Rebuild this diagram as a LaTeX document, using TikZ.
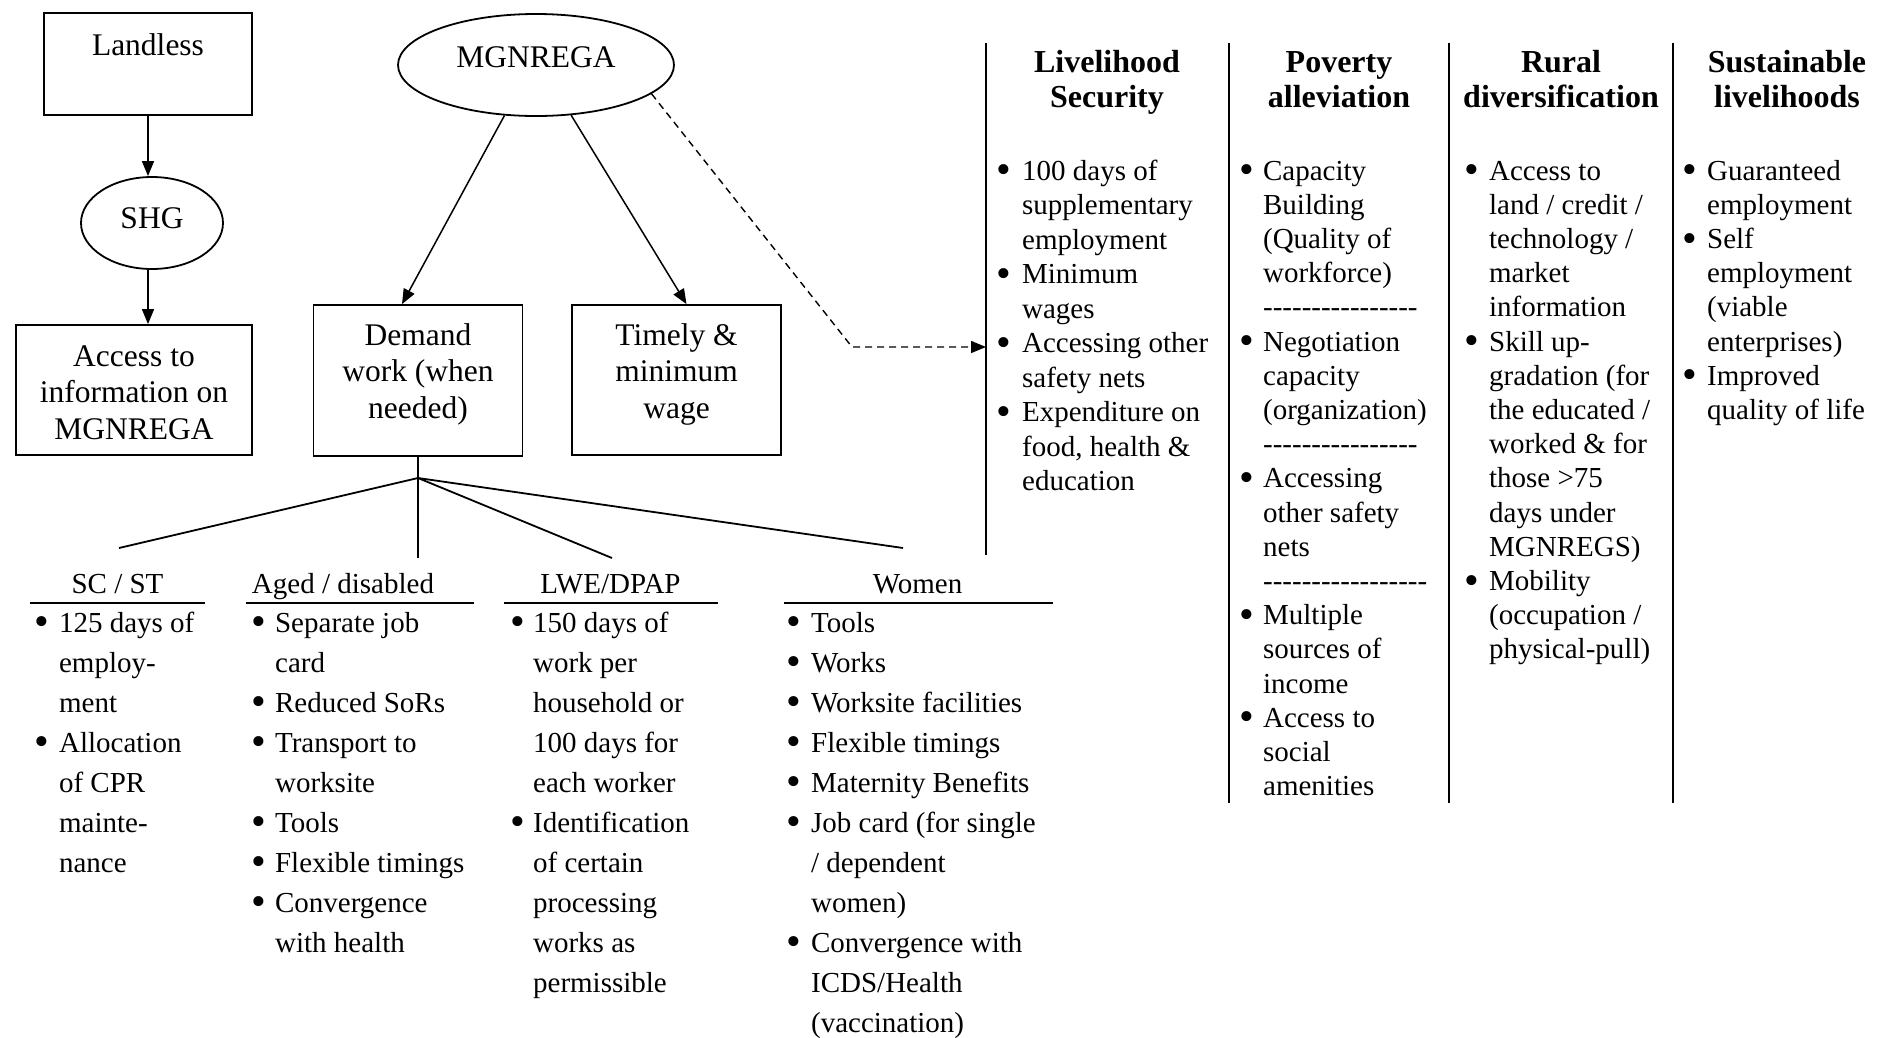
\documentclass[tikz,border=0pt]{standalone}
\usepackage{fontspec}
\setmainfont{Liberation Serif}
\usetikzlibrary{arrows.meta,shapes.geometric,calc}
\newcommand\dsh{\mbox{-}}
\newcommand\dashrow[1]{\foreach \k in {1,...,#1}{\dsh}}
\newcommand\bul{\raisebox{-0.13em}{\scalebox{1.45}{\textbullet}}}
\newcommand\boxfont{\fontsize{31.5}{36.5}\selectfont}
\newcommand\listA{\fontsize{29}{34.2}\selectfont}
\newcommand\listAA{\fontsize{29}{34.5}\selectfont}
\newcommand\listB{\fontsize{29}{40}\selectfont}
\newcommand\headfont{\fontsize{32}{35}\selectfont\bfseries}
\newcommand\blist[2]{\begin{tabular}[t]{@{}l@{\hspace{#1pt}}l@{}}#2\end{tabular}}
\newcommand\clines[1]{\begin{tabular}[t]{@{}c@{}}#1\end{tabular}}
\begin{document}
\begin{tikzpicture}[x=1pt,y=-1pt,
  box/.style={draw, line width=1.8pt, inner sep=0pt},
  oval/.style={draw, ellipse, line width=1.8pt, inner sep=0pt},
  arr/.style={line width=1.5pt, -{Triangle[length=15pt,width=12pt]}},
  dasharr/.style={line width=1.4pt, dash pattern=on 7pt off 5pt, -{Triangle[length=15pt,width=12pt]}},
  fan/.style={line width=1.8pt},
  colrule/.style={line width=2.4pt},
  uline/.style={line width=1.5pt},
  txt/.style={inner sep=0pt, anchor=base},
  lst/.style={inner sep=0pt, anchor=base west}]
\useasboundingbox (0,0) rectangle (1883,1037);

% ---------- top left ----------
\node[box, minimum width=208pt, minimum height=102pt] (land) at (148,64) {};
\node[txt, font=\boxfont] (landT) at (148,55) {Landless};
\node[oval, minimum width=142pt, minimum height=92pt] (shg) at (152,223) {};
\node[txt, font=\boxfont] (shgT) at (152,228) {SHG};
\node[box, minimum width=236pt, minimum height=130pt] (acc) at (134,390) {};
\node[txt, font=\boxfont] (accT) at (134,366) {\clines{Access to\\information on\\MGNREGA}};

\draw[arr] (land.south) -- (land.south |- shg.north);
\draw[arr] (land.south |- shg.south) -- (land.south |- acc.north);

% ---------- MGNREGA ----------
\node[oval, minimum width=276pt, minimum height=102pt] (mg) at (536,65) {};
\node[txt, font=\boxfont] (mgT) at (536,67) {MGNREGA};
\node[box, minimum width=209pt, minimum height=151pt] (dem) at (418,380.5) {};
\node[txt, font=\boxfont] (demT) at (418,345) {\clines{Demand\\work (when\\needed)}};
\node[box, minimum width=209pt, minimum height=150pt] (tim) at (676.5,380) {};
\node[txt, font=\boxfont] (timT) at (676.5,345) {\clines{Timely \&\\minimum\\wage}};

\draw[arr] (mg.238) -- ([xshift=-16pt]dem.north);
\draw[arr] (mg.-55) -- ([xshift=10pt]tim.north);

% ---------- column rules ----------
\coordinate (v1t) at (986,43);  \coordinate (v1b) at (986,555);
\coordinate (v2t) at (1229,43); \coordinate (v2b) at (1229,803);
\coordinate (v3t) at (1449,43); \coordinate (v3b) at (1449,803);
\coordinate (v4t) at (1673,43); \coordinate (v4b) at (1673,803);
\draw[colrule] (v1t) -- (v1b);
\draw[colrule] (v2t) -- (v2b);
\draw[colrule] (v3t) -- (v3b);
\draw[colrule] (v4t) -- (v4b);

\coordinate (bend) at (852,347);
\draw[dasharr] (mg.-14) -- (bend) -- (bend -| v1t);

% ---------- column headings ----------
\node[txt, font=\headfont] (h1) at (1107,72) {\clines{Livelihood\\Security}};
\node[txt, font=\headfont] (h2) at (1339,72) {\clines{Poverty\\alleviation}};
\node[txt, font=\headfont] (h3) at (1561,72) {\clines{Rural\\diversification}};
\node[txt, font=\headfont] (h4) at (1787,72) {\clines{Sustainable\\livelihoods}};

% ---------- column lists ----------
\node[lst, font=\listAA] (c1) at (996.6,180) {\blist{10.6}{%
\bul & 100 days of\\
 & supplementary\\
 & employment\\
\bul & Minimum\\
 & wages\\
\bul & Accessing other\\
 & safety nets\\
\bul & Expenditure on\\
 & food, health \&\\
 & education}};

\node[lst, font=\listA] (c2) at (1239.6,180) {\blist{8.6}{%
\bul & Capacity\\
 & Building\\
 & (Quality of\\
 & workforce)\\
 & \dashrow{16}\\
\bul & Negotiation\\
 & capacity\\
 & (organization)\\
 & \dashrow{16}\\
\bul & Accessing\\
 & other safety\\
 & nets\\
 & \dashrow{17}\\
\bul & Multiple\\
 & sources of\\
 & income\\
\bul & Access to\\
 & social\\
 & amenities}};

\node[lst, font=\listA] (c3) at (1464.6,180) {\blist{9.6}{%
\bul & Access to\\
 & land / credit /\\
 & technology /\\
 & market\\
 & information\\
\bul & Skill up-\\
 & gradation (for\\
 & the educated /\\
 & worked \& for\\
 & those >75\\
 & days under\\
 & MGNREGS)\\
\bul & Mobility\\
 & (occupation /\\
 & physical-pull)}};

\node[lst, font=\listA] (c4) at (1682.6,180) {\blist{9.6}{%
\bul & Guaranteed\\
 & employment\\
\bul & Self\\
 & employment\\
 & (viable\\
 & enterprises)\\
\bul & Improved\\
 & quality of life}};

% ---------- fan to target groups ----------
\coordinate (jn) at (418,478);
\coordinate (scE) at (119,548);
\coordinate (agE) at (418,558);
\coordinate (lwE) at (612,558);
\coordinate (wmE) at (903,548);
\draw[fan] (dem.south) -- (jn);
\draw[fan] (jn) -- (scE);
\draw[fan] (jn) -- (agE);
\draw[fan] (jn) -- (lwE);
\draw[fan] (jn) -- (wmE);

\node[txt, font=\listB] (scH) at (117.5,593) {SC / ST};
\node[txt, font=\listB] (agH) at (343,593) {Aged / disabled};
\node[txt, font=\listB] (lwH) at (610.5,593) {LWE/DPAP};
\node[txt, font=\listB] (wmH) at (917.5,593) {Women};
\draw[uline] (30,603) -- (205,603);
\draw[uline] (246,603) -- (474,603);
\draw[uline] (504,603) -- (718,603);
\draw[uline] (784,603) -- (1053,603);

\node[lst, font=\listB] (l1) at (34.6,632) {\blist{9.6}{%
\bul & 125 days of\\
 & employ-\\
 & ment\\
\bul & Allocation\\
 & of CPR\\
 & mainte-\\
 & nance}};

\node[lst, font=\listB] (l2) at (251.6,632) {\blist{8.6}{%
\bul & Separate job\\
 & card\\
\bul & Reduced SoRs\\
\bul & Transport to\\
 & worksite\\
\bul & Tools\\
\bul & Flexible timings\\
\bul & Convergence\\
 & with health}};

\node[lst, font=\listB] (l3) at (510.6,632) {\blist{7.6}{%
\bul & 150 days of\\
 & work per\\
 & household or\\
 & 100 days for\\
 & each worker\\
\bul & Identification\\
 & of certain\\
 & processing\\
 & works as\\
 & permissible}};

\node[lst, font=\listB] (l4) at (786.6,632) {\blist{9.6}{%
\bul & Tools\\
\bul & Works\\
\bul & Worksite facilities\\
\bul & Flexible timings\\
\bul & Maternity Benefits\\
\bul & Job card (for single\\
 & / dependent\\
 & women)\\
\bul & Convergence with\\
 & ICDS/Health\\
 & (vaccination)}};
\end{tikzpicture}
\end{document}
